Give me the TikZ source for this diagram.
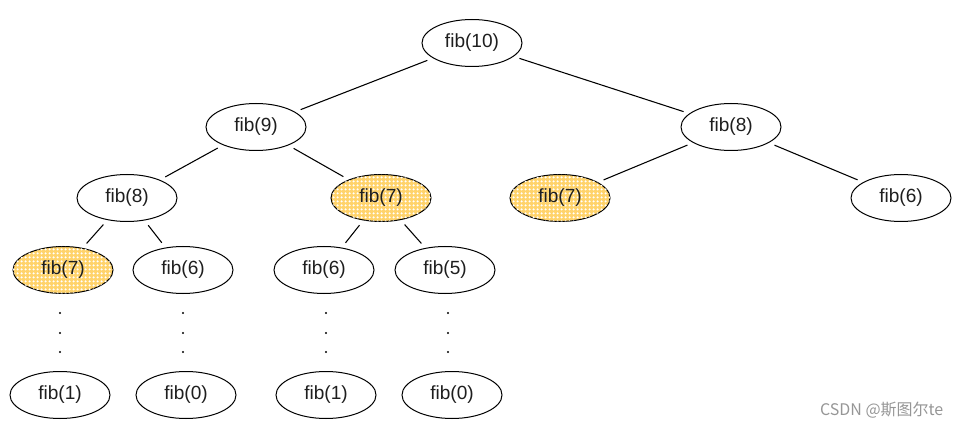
\documentclass[tikz,border=0pt]{standalone}
\usepackage{fontspec}
\setmainfont{Liberation Sans}
\newfontfamily\cjk{Noto Sans CJK SC}
\usetikzlibrary{shapes.geometric,patterns}
\definecolor{hatchorange}{RGB}{255,200,70}
\definecolor{wmgray}{RGB}{150,150,150}
\definecolor{txt}{RGB}{30,30,30}
\pgfdeclarepatternformonly{griddots}{\pgfpointorigin}{\pgfpoint{3pt}{3pt}}{\pgfpoint{3pt}{3pt}}{%
  \pgfpathcircle{\pgfpoint{1.5pt}{1.5pt}}{1.1pt}\pgfusepath{fill}}
\newdimen\pxu
\pxu=0.75pt
\tikzset{
  fibnode/.style={ellipse, draw=black, line width=0.75pt, minimum width=100\pxu, minimum height=47\pxu, inner sep=0pt, text=txt, font=\fontsize{14.3}{16}\selectfont},
  dup/.style={fill=hatchorange!80!white, postaction={pattern=griddots, pattern color=white}},
  edge/.style={line width=0.8pt, shorten >=6\pxu, shorten <=6\pxu},
  dotmark/.style={circle, fill=black, inner sep=0pt, minimum size=2.2\pxu}
}
\begin{document}
\begin{tikzpicture}[x=0.75pt,y=-0.75pt]
\useasboundingbox (0,0) rectangle (962,427);
\node[fibnode] (n10) at (472,43) {fib(10)};
\node[fibnode] (n9) at (256,127) {fib(9)};
\node[fibnode] (n8r) at (731,127) {fib(8)};
\node[fibnode] (n8l) at (127,198) {fib(8)};
\node[fibnode,dup] (n7m) at (381,198) {fib(7)};
\node[fibnode,dup] (n7r) at (560,198) {fib(7)};
\node[fibnode] (n6r) at (901,198) {fib(6)};
\node[fibnode,dup] (n7l) at (63,270) {fib(7)};
\node[fibnode] (n6a) at (183,270) {fib(6)};
\node[fibnode] (n6b) at (324,270) {fib(6)};
\node[fibnode] (n5) at (445,270) {fib(5)};
\node[fibnode] (n1a) at (60,395) {fib(1)};
\node[fibnode] (n0a) at (186,395) {fib(0)};
\node[fibnode] (n1b) at (326,395) {fib(1)};
\node[fibnode] (n0b) at (452,395) {fib(0)};
\foreach \x/\n in {60/a,183/b,326/c,448/d}{
  \node[dotmark] (d1\n) at (\x,313) {};
  \node[dotmark] (d2\n) at (\x,333) {};
  \node[dotmark] (d3\n) at (\x,352) {};
}
\draw[edge] (n10) -- (n9);
\draw[edge] (n10) -- (n8r);
\draw[edge] (n9) -- (n8l);
\draw[edge] (n9) -- (n7m);
\draw[edge] (n8r) -- (n7r);
\draw[edge] (n8r) -- (n6r);
\draw[edge] (n8l) -- (n7l);
\draw[edge] (n8l) -- (n6a);
\draw[edge] (n7m) -- (n6b);
\draw[edge] (n7m) -- (n5);
\node[text=wmgray, font=\cjk\fontsize{12}{14}\selectfont, anchor=east] (wm) at (948,410) {CSDN @斯图尔te};
\end{tikzpicture}
\end{document}
